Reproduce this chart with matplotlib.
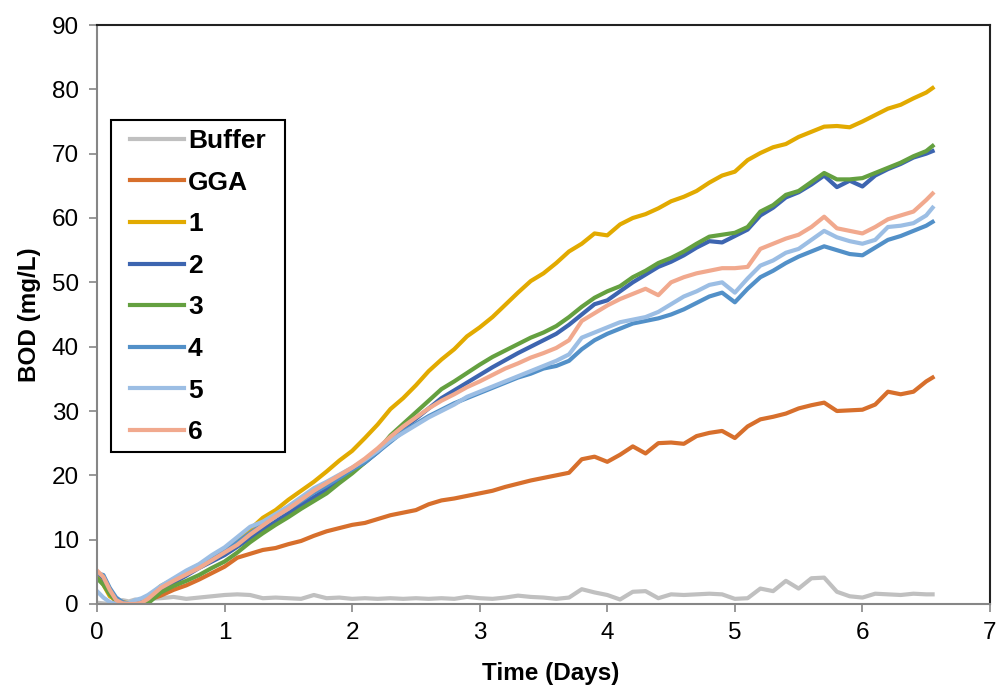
import matplotlib
matplotlib.use("Agg")
import matplotlib.pyplot as plt
from matplotlib.patches import Rectangle

plt.rcParams['font.family'] = ['Liberation Sans', 'DejaVu Sans']

# time axis (days)
days = [0.00, 0.05, 0.10, 0.15, 0.20, 0.25, 0.30, 0.35, 0.40,
        0.5, 0.6, 0.7, 0.8, 0.9, 1.0, 1.1, 1.2, 1.3, 1.4,
        1.5, 1.6, 1.7, 1.8, 1.9, 2.0, 2.1, 2.2, 2.3, 2.4,
        2.5, 2.6, 2.7, 2.8, 2.9, 3.0, 3.1, 3.2, 3.3, 3.4,
        3.5, 3.6, 3.7, 3.8, 3.9, 4.0, 4.1, 4.2, 4.3, 4.4,
        4.5, 4.6, 4.7, 4.8, 4.9, 5.0, 5.1, 5.2, 5.3, 5.4,
        5.5, 5.6, 5.7, 5.8, 5.9, 6.0, 6.1, 6.2, 6.3, 6.4,
        6.5, 6.55]

buffer = [0.2, 0.1, 0.0, 0.2, 0.6, 0.4, 0.7, 0.5, 0.8,
          0.9, 1.1, 0.8, 1.0, 1.2, 1.4, 1.5, 1.4, 0.9, 1.0,
          0.9, 0.8, 1.4, 0.9, 1.0, 0.8, 0.9, 0.8, 0.9, 0.8,
          0.9, 0.8, 0.9, 0.8, 1.1, 0.9, 0.8, 1.0, 1.3, 1.1,
          1.0, 0.8, 1.0, 2.3, 1.8, 1.4, 0.7, 1.9, 2.0, 0.9,
          1.5, 1.4, 1.5, 1.6, 1.5, 0.8, 0.9, 2.4, 2.0, 3.6,
          2.4, 4.0, 4.1, 1.9, 1.2, 1.0, 1.6, 1.5, 1.4, 1.6,
          1.5, 1.5]

gga = [4.5, 3.5, 1.5, 0.3, 0.0, 0.0, 0.0, 0.2, 0.6,
       1.3, 2.2, 2.9, 3.8, 4.8, 5.8, 7.2, 7.8, 8.4, 8.7,
       9.3, 9.8, 10.6, 11.3, 11.8, 12.3, 12.6, 13.2, 13.8, 14.2,
       14.6, 15.5, 16.1, 16.4, 16.8, 17.2, 17.6, 18.2, 18.7, 19.2,
       19.6, 20.0, 20.4, 22.5, 22.9, 22.1, 23.2, 24.5, 23.4, 25.0,
       25.1, 24.9, 26.1, 26.6, 26.9, 25.8, 27.6, 28.7, 29.1, 29.6,
       30.4, 30.9, 31.3, 30.0, 30.1, 30.2, 31.0, 33.0, 32.6, 33.0,
       34.6, 35.2]

s1 = [4.5, 3.0, 1.2, 0.6, 0.3, 0.1, 0.0, 0.4, 1.0,
      2.8, 3.8, 4.9, 6.1, 7.0, 8.2, 9.8, 11.6, 13.4, 14.6,
      16.2, 17.6, 19.0, 20.6, 22.3, 23.8, 25.8, 27.9, 30.3, 32.0,
      34.0, 36.2, 38.0, 39.6, 41.6, 43.0, 44.6, 46.5, 48.4, 50.2,
      51.4, 53.0, 54.8, 56.0, 57.6, 57.3, 59.0, 60.0, 60.6, 61.5,
      62.6, 63.3, 64.2, 65.5, 66.6, 67.2, 69.0, 70.1, 71.0, 71.5,
      72.6, 73.4, 74.2, 74.3, 74.1, 75.0, 76.0, 77.0, 77.6, 78.6,
      79.5, 80.2]

s2 = [5.0, 4.0, 2.0, 0.8, 0.2, 0.0, 0.0, 0.3, 0.9,
      2.2, 3.3, 4.4, 5.6, 6.6, 7.6, 8.9, 10.2, 11.6, 12.8,
      14.1, 15.4, 16.6, 17.8, 19.3, 20.6, 22.0, 23.6, 25.6, 27.3,
      28.8, 30.4, 32.0, 33.2, 34.4, 35.6, 36.8, 37.9, 39.0, 40.0,
      41.0, 42.0, 43.4, 45.0, 46.6, 47.2, 48.6, 50.0, 51.2, 52.4,
      53.2, 54.2, 55.4, 56.4, 56.2, 57.2, 58.2, 60.4, 61.6, 63.2,
      64.0, 65.2, 66.6, 64.8, 65.8, 64.9, 66.6, 67.6, 68.4, 69.4,
      70.0, 70.4]

s3 = [4.0, 3.0, 1.5, 0.5, 0.1, 0.0, 0.0, 0.0, 0.1,
      1.8, 2.8, 3.6, 4.5, 5.6, 6.6, 8.0, 9.6, 11.0, 12.3,
      13.5, 14.8, 16.0, 17.2, 18.8, 20.3, 22.0, 23.8, 26.2, 28.0,
      29.8, 31.6, 33.4, 34.6, 35.9, 37.2, 38.4, 39.4, 40.4, 41.4,
      42.2, 43.2, 44.6, 46.2, 47.6, 48.6, 49.4, 50.8, 51.8, 53.0,
      53.8, 54.8, 56.0, 57.1, 57.4, 57.7, 58.6, 61.0, 62.0, 63.6,
      64.2, 65.6, 67.0, 66.0, 66.0, 66.2, 67.0, 67.8, 68.6, 69.6,
      70.4, 71.2]

s4 = [4.8, 4.5, 2.5, 1.0, 0.3, 0.0, 0.0, 0.4, 1.0,
      2.6, 3.8, 4.9, 5.9, 7.0, 8.2, 9.6, 11.0, 12.4, 13.6,
      14.8, 16.0, 17.3, 18.4, 19.6, 20.9, 22.0, 23.6, 25.2, 26.8,
      28.0, 29.2, 30.2, 31.2, 32.0, 32.8, 33.6, 34.4, 35.2, 35.8,
      36.6, 37.0, 37.8, 39.6, 41.0, 42.0, 42.8, 43.6, 44.0, 44.4,
      45.0, 45.8, 46.8, 47.8, 48.4, 46.9, 49.0, 50.8, 51.8, 53.0,
      54.0, 54.8, 55.6, 55.0, 54.4, 54.2, 55.4, 56.6, 57.2, 58.0,
      58.8, 59.4]

s5 = [2.0, 1.0, 0.3, 0.0, 0.0, 0.1, 0.6, 0.9, 1.4,
      2.8, 4.0, 5.2, 6.2, 7.6, 8.8, 10.4, 12.0, 12.8, 14.0,
      15.2, 16.6, 18.0, 19.0, 20.1, 21.2, 22.4, 23.8, 25.4, 26.6,
      27.8, 29.0, 30.0, 31.0, 32.2, 33.0, 33.8, 34.6, 35.4, 36.2,
      37.0, 37.8, 38.8, 41.4, 42.2, 43.0, 43.8, 44.2, 44.6, 45.4,
      46.6, 47.8, 48.6, 49.6, 50.0, 48.4, 50.6, 52.6, 53.4, 54.6,
      55.2, 56.6, 58.0, 57.0, 56.4, 56.0, 56.6, 58.6, 58.8, 59.2,
      60.4, 61.6]

s6 = [5.2, 4.2, 2.2, 0.6, 0.1, 0.0, 0.0, 0.2, 0.8,
      2.5, 3.6, 4.6, 5.6, 6.8, 8.0, 9.2, 10.8, 12.2, 13.6,
      14.8, 16.2, 17.6, 18.8, 20.0, 21.2, 22.6, 24.2, 26.0, 27.6,
      29.0, 30.4, 31.6, 32.6, 33.7, 34.6, 35.6, 36.6, 37.4, 38.3,
      39.0, 39.8, 41.0, 44.0, 45.2, 46.4, 47.4, 48.2, 49.0, 48.0,
      50.0, 50.8, 51.4, 51.8, 52.2, 52.2, 52.4, 55.2, 56.0, 56.8,
      57.4, 58.6, 60.2, 58.4, 58.0, 57.6, 58.6, 59.8, 60.4, 61.0,
      62.8, 63.8]

labels = ['Buffer', 'GGA', '1', '2', '3', '4', '5', '6']
series = [buffer, gga, s1, s2, s3, s4, s5, s6]
colors = ['#c0c0c0', '#d76f2c', '#e2aa00', '#3d65b0', '#64a040',
          '#5290c8', '#9cbee4', '#f1a98e']

W, H = 998, 690
fig = plt.figure(figsize=(W/100, H/100), dpi=100)
ax = fig.add_axes([97/W, 1-604/H, (990-97)/W, (604-25)/H])

for y, lab, c in zip(series, labels, colors):
    ax.plot(days, y, color=c, lw=3, label=lab, solid_joinstyle='round')

ax.set_xlim(0, 7)
ax.set_ylim(0, 90)
ax.set_xticks(range(0, 8))
ax.set_yticks(range(0, 100, 10))
ax.tick_params(direction='out', length=6, width=1.2, color='#868686',
               labelsize=17.5, pad=7)
for s in ['left', 'bottom']:
    ax.spines[s].set_color('#868686')
    ax.spines[s].set_linewidth(1.5)
for s in ['top', 'right']:
    ax.spines[s].set_color('#222222')
    ax.spines[s].set_linewidth(1.5)

ax.set_xlabel('Time (Days)', fontsize=17.5, fontweight='bold', labelpad=8)
ax.set_ylabel('BOD (mg/L)', fontsize=17.5, fontweight='bold', labelpad=8)
ax.xaxis.set_label_coords(0.508, -0.1)

# legend box drawn separately so the padding matches
box = Rectangle((111/W, 1-452/H), (285-111)/W, (452-120)/H,
                transform=fig.transFigure, facecolor='white',
                edgecolor='black', lw=1.5, zorder=4)
fig.patches.append(box)

leg = ax.legend(loc='upper left', bbox_to_anchor=(130/W, 1-129/H),
                bbox_transform=fig.transFigure, borderaxespad=0,
                frameon=False, prop={'weight': 'bold', 'size': 19},
                handlelength=2.05, handletextpad=0.15, labelspacing=0.667,
                borderpad=0)
leg.set_zorder(5)
leg.remove()
fig.legends.append(leg)

fig.savefig('out.png', dpi=100)
